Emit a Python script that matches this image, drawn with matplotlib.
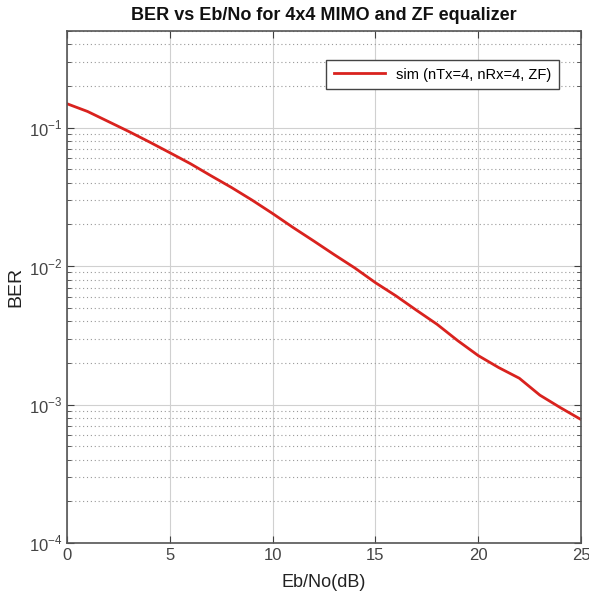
import numpy as np
import matplotlib
matplotlib.use("Agg")
import matplotlib.pyplot as plt
from matplotlib import font_manager
from matplotlib.ticker import LogLocator, NullFormatter, FuncFormatter

# values
ebno_db = np.arange(0, 26)
ber = np.array([0.149, 0.131, 0.111, 0.094, 0.079, 0.066, 0.055, 0.045, 0.037,
                0.030, 0.024, 0.019, 0.0152, 0.0121, 0.0097, 0.0076, 0.0061,
                0.0048, 0.0038, 0.0029, 0.00226, 0.00185, 0.00155, 0.00117,
                0.00095, 0.00078])
x_ticks = [0, 5, 10, 15, 20, 25]

names = {f.name for f in font_manager.fontManager.ttflist}
fam = "Liberation Sans Narrow" if "Liberation Sans Narrow" in names else "Liberation Sans"
plt.rcParams["font.family"] = [fam, "DejaVu Sans"]
plt.rcParams["mathtext.fontset"] = "custom"
plt.rcParams["mathtext.rm"] = fam

fig = plt.figure(figsize=(5.89, 6.07), dpi=100)
ax = fig.add_axes([0.1138, 0.1054, 0.8726, 0.8436])

ax.semilogy(ebno_db, ber, color="#d9221e", lw=2.0, label="sim (nTx=4, nRx=4, ZF)")

ax.set_xlim(0, 25)
ax.set_ylim(1e-4, 0.5)
ax.set_xticks(x_ticks)
ax.yaxis.set_major_locator(LogLocator(base=10, numticks=10))
ax.yaxis.set_major_formatter(FuncFormatter(
    lambda v, p: "10$^{\\mathrm{%d}}$" % round(np.log10(v)) if v > 0 else ""))
ax.yaxis.set_minor_locator(LogLocator(base=10, subs=np.arange(2, 10), numticks=20))
ax.yaxis.set_minor_formatter(NullFormatter())

ax.grid(True, which="major", color="#d0d0d0", lw=0.8, ls="-")
ax.grid(True, which="minor", axis="y", color="#999999", lw=0.8, ls=(0, (1, 2.5)))
ax.tick_params(which="both", direction="in", top=True, right=True,
               colors="#404040", labelcolor="#444444", labelsize=12)
ax.tick_params(which="major", length=5)
ax.tick_params(which="minor", length=3)
for s in ax.spines.values():
    s.set_color("#555555")
    s.set_linewidth(1.2)

ax.set_title("BER vs Eb/No for 4x4 MIMO and ZF equalizer", fontsize=13,
             fontweight="bold", color="#111111", pad=8)
ax.set_xlabel("Eb/No(dB)", fontsize=13, color="#222222", labelpad=8)
ax.set_ylabel("BER", fontsize=14, color="#222222", labelpad=3)

leg = ax.legend(loc="upper right", bbox_to_anchor=(0.971, 0.957), fontsize=10.5,
                fancybox=False, framealpha=1, edgecolor="#444444",
                handlelength=3.5, borderpad=0.5)
leg.get_frame().set_linewidth(1.0)

fig.savefig("out.png", dpi=100)
